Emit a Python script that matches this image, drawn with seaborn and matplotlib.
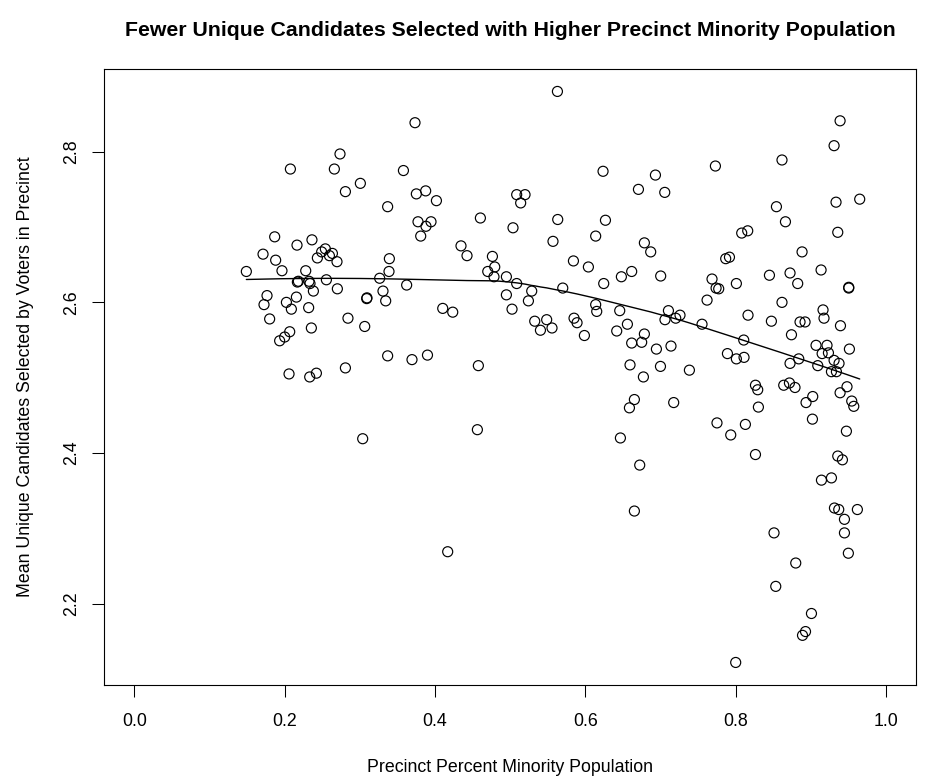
import numpy as np
import pandas as pd
import matplotlib
matplotlib.use("Agg")
import matplotlib.pyplot as plt
import seaborn as sns

# Precinct share of minority residents (x) and mean unique candidates chosen (y)
minority_share = [
    0.149, 0.1725, 0.1765, 0.180, 0.1712, 0.1867, 0.188, 0.1933, 0.1964, 0.200,
    0.2023, 0.2058, 0.2067, 0.2076, 0.2089, 0.2156, 0.2164, 0.2169, 0.2182, 0.228,
    0.2319, 0.2324, 0.2333, 0.2337, 0.2355, 0.2363, 0.2382, 0.2422, 0.2435, 0.2492,
    0.2541, 0.2555, 0.2595, 0.2635, 0.2661, 0.2696, 0.2701, 0.2736, 0.2808, 0.2808,
    0.2842, 0.3007, 0.3038, 0.3065, 0.3091, 0.3095, 0.3264, 0.3308, 0.3344, 0.337,
    0.337, 0.3388, 0.3393, 0.358, 0.3623, 0.3694, 0.3734, 0.3752, 0.3774, 0.381,
    0.3876, 0.388, 0.390, 0.3947, 0.4019, 0.4103, 0.4169, 0.4236, 0.4346, 0.4426,
    0.4564, 0.4577, 0.4604, 0.4702, 0.4764, 0.4785, 0.4795, 0.495, 0.495, 0.5025,
    0.5038, 0.5087, 0.5087, 0.514, 0.5198, 0.5243, 0.5287, 0.5327, 0.5403, 0.5486,
    0.5557, 0.557, 0.5629, 0.5633, 0.570, 0.5842, 0.585, 0.589, 0.5988, 0.6041,
    0.6138, 0.6138, 0.6152, 0.6236, 0.6245, 0.6268, 0.6418, 0.6458, 0.6467, 0.648,
    0.656, 0.6587, 0.6595, 0.6617, 0.6617, 0.6653, 0.6653, 0.6707, 0.6724, 0.675,
    0.6773, 0.6786, 0.6786, 0.687, 0.6933, 0.6946, 0.700, 0.7003, 0.7057, 0.706,
    0.7106, 0.714, 0.7176, 0.7203, 0.726, 0.7385, 0.7553, 0.762, 0.7686, 0.7731,
    0.774, 0.7752, 0.7775, 0.7868, 0.7891, 0.7918, 0.7935, 0.8001, 0.801, 0.801,
    0.8081, 0.8108, 0.8112, 0.813, 0.8161, 0.8165, 0.8264, 0.8264, 0.8294, 0.8303,
    0.845, 0.8476, 0.8511, 0.8534, 0.8543, 0.8617, 0.8617, 0.864, 0.8663, 0.8716,
    0.8724, 0.8724, 0.8743, 0.879, 0.880, 0.8826, 0.884, 0.8857, 0.8884, 0.889,
    0.893, 0.8924, 0.8937, 0.9009, 0.9022, 0.9026, 0.907, 0.9093, 0.9137, 0.9142,
    0.9151, 0.9163, 0.9176, 0.9216, 0.9235, 0.9275, 0.9275, 0.931, 0.931, 0.9315,
    0.9336, 0.9341, 0.9359, 0.9359, 0.9372, 0.9376, 0.939, 0.939, 0.9395, 0.9421,
    0.9448, 0.9448, 0.9474, 0.9482, 0.950, 0.9505, 0.9505, 0.9514, 0.9545, 0.9572,
    0.962, 0.9651,
]
mean_unique = [
    2.641, 2.597, 2.609, 2.578, 2.664, 2.687, 2.656, 2.549, 2.642, 2.554,
    2.600, 2.505, 2.561, 2.777, 2.591, 2.607, 2.676, 2.627, 2.628, 2.642,
    2.593, 2.628, 2.501, 2.625, 2.566, 2.683, 2.615, 2.506, 2.659, 2.667,
    2.671, 2.630, 2.662, 2.665, 2.777, 2.654, 2.618, 2.797, 2.747, 2.513,
    2.579, 2.758, 2.419, 2.568, 2.605, 2.606, 2.632, 2.615, 2.602, 2.727,
    2.529, 2.641, 2.658, 2.775, 2.623, 2.524, 2.8385, 2.744, 2.707, 2.688,
    2.748, 2.701, 2.530, 2.707, 2.735, 2.592, 2.269, 2.587, 2.675, 2.662,
    2.431, 2.516, 2.712, 2.641, 2.661, 2.634, 2.647, 2.634, 2.610, 2.591,
    2.699, 2.743, 2.625, 2.732, 2.743, 2.602, 2.615, 2.575, 2.563, 2.577,
    2.566, 2.681, 2.880, 2.710, 2.619, 2.655, 2.579, 2.573, 2.556, 2.647,
    2.688, 2.597, 2.588, 2.774, 2.625, 2.709, 2.562, 2.589, 2.420, 2.634,
    2.571, 2.460, 2.517, 2.641, 2.546, 2.471, 2.323, 2.750, 2.384, 2.547,
    2.501, 2.679, 2.558, 2.667, 2.769, 2.538, 2.515, 2.635, 2.746, 2.577,
    2.589, 2.542, 2.467, 2.579, 2.583, 2.510, 2.571, 2.603, 2.631, 2.781,
    2.619, 2.440, 2.618, 2.658, 2.532, 2.660, 2.424, 2.122, 2.625, 2.525,
    2.692, 2.550, 2.527, 2.438, 2.695, 2.583, 2.490, 2.398, 2.484, 2.461,
    2.636, 2.575, 2.294, 2.223, 2.727, 2.789, 2.600, 2.490, 2.707, 2.493,
    2.639, 2.519, 2.557, 2.487, 2.254, 2.625, 2.525, 2.574, 2.667, 2.158,
    2.163, 2.574, 2.467, 2.187, 2.445, 2.475, 2.543, 2.516, 2.643, 2.364,
    2.532, 2.590, 2.579, 2.543, 2.533, 2.508, 2.367, 2.808, 2.523, 2.327,
    2.733, 2.508, 2.693, 2.396, 2.325, 2.519, 2.841, 2.480, 2.569, 2.391,
    2.312, 2.294, 2.429, 2.488, 2.267, 2.619, 2.620, 2.538, 2.469, 2.462,
    2.325, 2.737,
]

x_ticks = [0.0, 0.2, 0.4, 0.6, 0.8, 1.0]
x_tick_labels = ["0.0", "0.2", "0.4", "0.6", "0.8", "1.0"]
y_ticks = [2.2, 2.4, 2.6, 2.8]
y_tick_labels = ["2.2", "2.4", "2.6", "2.8"]

title_text = "Fewer Unique Candidates Selected with Higher Precinct Minority Population"
x_label = "Precinct Percent Minority Population"
y_label = "Mean Unique Candidates Selected by Voters in Precinct"

df = pd.DataFrame({"minority": minority_share, "unique": mean_unique})


def lowess(x, y, f=2 / 3, iters=3):
    """Locally weighted linear smoother with robustness iterations."""
    order = np.argsort(x)
    x = np.asarray(x, float)[order]
    y = np.asarray(y, float)[order]
    n = len(x)
    r = int(max(min(round(f * n), n), 2))
    h = np.array([np.sort(np.abs(x - x[i]))[r - 1] for i in range(n)])
    h = np.maximum(h, 1e-12)
    w = np.clip(np.abs((x[None, :] - x[:, None]) / h[:, None]), 0.0, 1.0)
    w = (1 - w ** 3) ** 3
    robust = np.ones(n)
    fit = np.zeros(n)
    for _ in range(iters + 1):
        for i in range(n):
            wi = w[i] * robust
            sw = wi.sum()
            mx = (wi * x).sum() / sw
            my = (wi * y).sum() / sw
            sxx = (wi * (x - mx) ** 2).sum()
            if sxx > 1e-12:
                b = (wi * (x - mx) * (y - my)).sum() / sxx
            else:
                b = 0.0
            fit[i] = my + b * (x[i] - mx)
        res = y - fit
        s = np.median(np.abs(res))
        if s <= 0:
            break
        u = np.clip(res / (6 * s), -1, 1)
        robust = (1 - u ** 2) ** 2
    return x, fit


sns.set_theme(style="white")
plt.rcParams["font.family"] = ["Liberation Sans", "DejaVu Sans"]

W, H = 946, 780
fig = plt.figure(figsize=(W / 100, H / 100), dpi=100)
left, right, bottom, top = 104.3, 916.0, 685.3, 68.6
ax = fig.add_axes([left / W, 1 - bottom / H, (right - left) / W, (bottom - top) / H])

sns.scatterplot(
    data=df, x="minority", y="unique", ax=ax,
    marker="o", s=52, facecolor="none", edgecolor="black", linewidth=0.85,
    legend=False,
)

sx, sy = lowess(df["minority"].values, df["unique"].values)
sns.lineplot(x=sx, y=sy, ax=ax, color="black", linewidth=1.0, sort=False,
             estimator=None)

ymin, ymax = min(mean_unique), max(mean_unique)
pad = 0.04 * (ymax - ymin)
ax.set_xlim(-0.04, 1.04)
ax.set_ylim(ymin - pad, ymax + pad)

ax.set_xticks(x_ticks)
ax.set_xticklabels(x_tick_labels)
ax.set_yticks(y_ticks)
ax.set_yticklabels(y_tick_labels, rotation=90, va="center")

ax.tick_params(axis="both", which="major", direction="out", length=8.6,
               width=0.75, color="black", labelsize=12.75, labelcolor="black",
               bottom=True, left=True)
ax.tick_params(axis="x", pad=11)
ax.tick_params(axis="y", pad=9)

for sp in ax.spines.values():
    sp.set_visible(True)
    sp.set_color("black")
    sp.set_linewidth(0.8)

ax.set_xlabel(x_label, fontsize=12.75, color="black", labelpad=21)
ax.set_ylabel(y_label, fontsize=12.75, color="black", labelpad=21)

# Title centred over the plotting region
fig.text((left + right) / 2 / W, 1 - 30 / H, title_text, ha="center", va="center",
         fontsize=15.3, fontweight="bold", color="black")

fig.savefig("out.png", dpi=100, facecolor="white")
